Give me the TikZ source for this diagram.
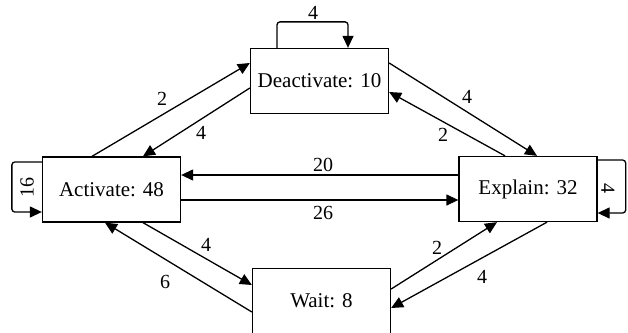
\documentclass[tikz,border=0pt]{standalone}
\usepackage{fontspec}
\setmainfont{Liberation Serif}
\usetikzlibrary{arrows.meta,calc}
\begin{document}
\begin{tikzpicture}[x=1pt,y=-1pt,
  statebox/.style={draw,line width=1.3pt,rectangle,minimum width=138pt,minimum height=65pt,inner sep=0pt,font=\fontsize{21}{24}\selectfont},
  elabel/.style={inner sep=0pt,font=\fontsize{20}{22}\selectfont},
  conn/.style={line width=1.3pt,-{Triangle[length=12pt,width=11pt]}},
  loopconn/.style={conn,rounded corners=3pt}]
\fill[white] (0,0) rectangle (628,332);
\useasboundingbox (0,0) rectangle (628,332);
\node[statebox] (act) at (111.5,189.5) {Activate: 48};
\node[statebox] (deact) at (319.5,81) {Deactivate: 10};
\node[statebox] (expl) at (528,189) {Explain: 32};
\node[statebox] (wait) at (321.5,301) {Wait: 8};
% self loops
\draw[loopconn] ($(act.west)+(0,-27.5)$) -- ++(-30,0) |- ($(act.west)+(0,22.5)$);
\draw[loopconn] ($(expl.east)+(0,-29)$) -- ++(28,0) |- ($(expl.east)+(0,24)$);
\draw[loopconn] ($(deact.north)+(-42.5,0)$) -- ++(0,-26) -| ($(deact.north)+(28.5,0)$);
% edges
\draw[conn] ($(act.north)+(-19.5,0)$) -- ($(deact.west)+(0,-18)$);
\draw[conn] ($(deact.west)+(0,7)$) -- ($(act.north)+(31.5,0)$);
\draw[conn] ($(deact.east)+(0,-18)$) -- ($(expl.north)+(9,0)$);
\draw[conn] ($(expl.north)+(-23,0)$) -- ($(deact.east)+(0,11)$);
\draw[conn] ($(expl.west)+(0,-14)$) -- ($(act.east)+(0,-14.5)$);
\draw[conn] ($(act.east)+(0,10.5)$) -- ($(expl.west)+(0,11)$);
\draw[conn] ($(act.south)+(31.5,0)$) -- ($(wait.west)+(0,-16)$);
\draw[conn] ($(wait.west)+(0,11)$) -- ($(act.south)+(-6.5,0)$);
\draw[conn] ($(wait.east)+(0,-12)$) -- ($(expl.south)+(-31,0)$);
\draw[conn] ($(expl.south)+(19,0)$) -- ($(wait.east)+(0,7)$);
% labels
\node[elabel] (l1) at (313,13) {4};
\node[elabel,rotate=90] (l2) at (27,187) {16};
\node[elabel,rotate=-90] (l3) at (608,188) {4};
\node[elabel] (l4) at (162,99) {2};
\node[elabel] (l5) at (201,133) {4};
\node[elabel] (l6) at (467,97) {4};
\node[elabel] (l7) at (443,135) {2};
\node[elabel] (l8) at (323,165) {20};
\node[elabel] (l9) at (323,213) {26};
\node[elabel] (l10) at (206,245) {4};
\node[elabel] (l11) at (165,282) {6};
\node[elabel] (l12) at (437,248) {2};
\node[elabel] (l13) at (482,277) {4};
\end{tikzpicture}
\end{document}
